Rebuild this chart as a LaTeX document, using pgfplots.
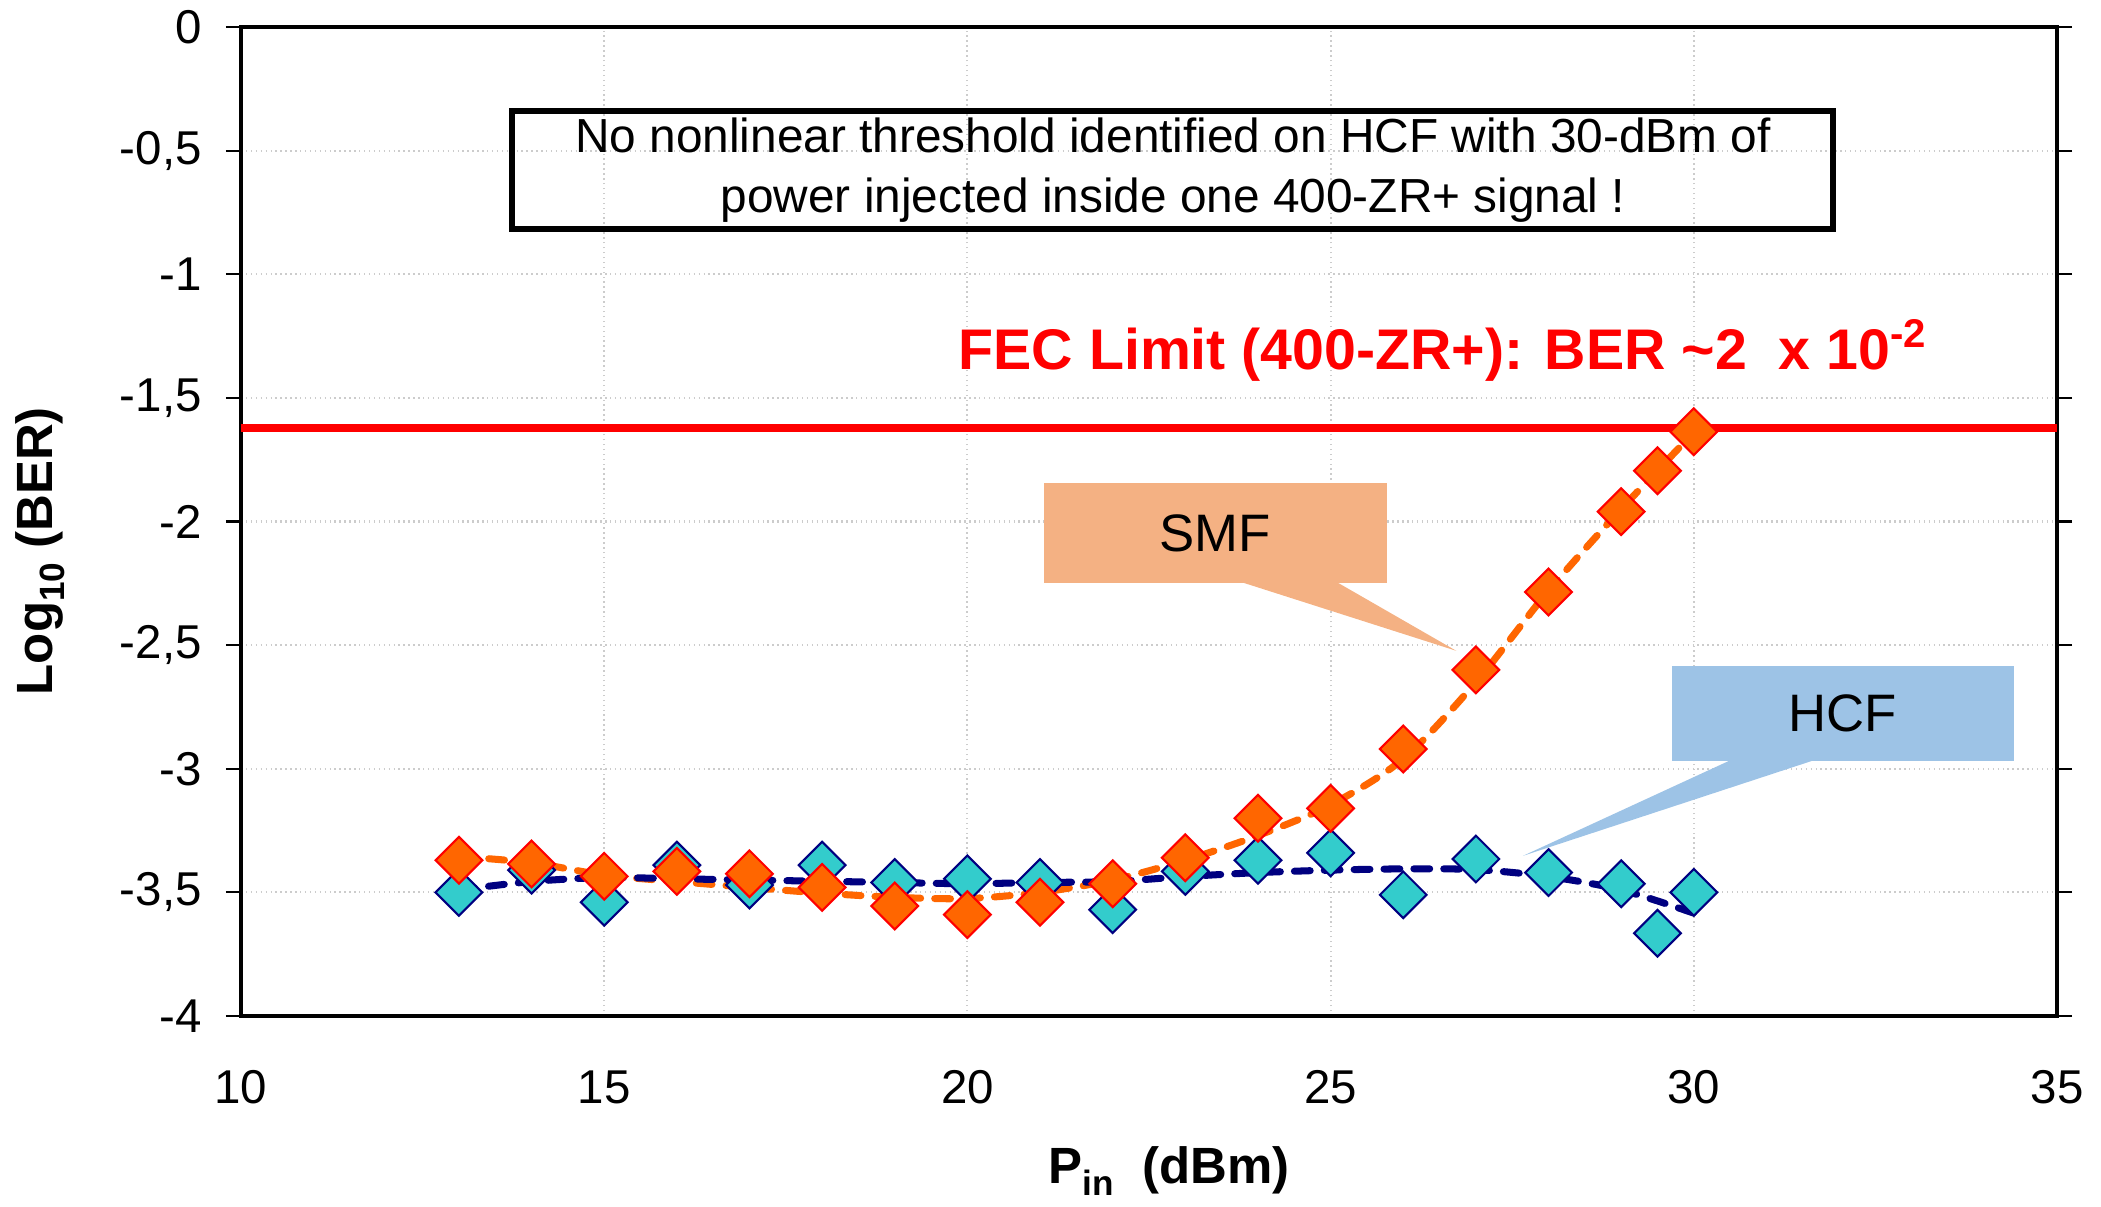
\documentclass[border=0pt]{standalone}
\usepackage{fontspec}
\setmainfont{Liberation Sans}
\usepackage{pgfplots}
\pgfplotsset{compat=1.18}
\usetikzlibrary{calc}
\definecolor{smf}{HTML}{FF6600}
\definecolor{hcf}{HTML}{33CCCC}
\definecolor{navyline}{HTML}{000080}
\definecolor{smfbox}{HTML}{F4B183}
\definecolor{hcfbox}{HTML}{9DC3E6}
\newcommand{\lowsub}[1]{\raisebox{-0.45ex}{\fontsize{10}{12}\selectfont #1}}

\begin{document}
\begin{tikzpicture}
\begin{axis}[
  scale only axis,
  width=18.16cm, height=9.89cm,
  xmin=10, xmax=35, ymin=-4, ymax=0,
  xtick={10,15,...,35},
  ytick={-4,-3.5,...,0},
  grid=major,
  grid style={gray!40, densely dotted, line width=0.6pt},
  axis line style={black, line width=1.3pt},
  tick align=outside,
  xtick style={draw=none},
  ytick style={black, line width=0.6pt},
  major tick length=0.15cm,
  tick label style={font=\fontsize{13.5}{16}\selectfont},
  yticklabel style={xshift=-0.12cm},
  xticklabel style={yshift=-0.27cm},
  /pgf/number format/assume math mode=true,
  /pgf/number format/use comma,
  /pgf/number format/1000 sep={},
  xlabel={\textbf{P\lowsub{\textbf{in}}\ \ (dBm)}},
  ylabel={\textbf{Log\lowsub{\textbf{10}} (BER)}},
  xlabel style={font=\fontsize{14.5}{17}\selectfont, at={(axis description cs:0.511,-0.157)}, anchor=center},
  ylabel style={font=\fontsize{14.5}{17}\selectfont, at={(axis description cs:-0.1107,0.47)}, anchor=center},
  clip=false,
]
% callouts
\fill[smfbox] (axis cs:21.05,-1.844) rectangle (axis cs:25.78,-2.248);
\fill[smfbox] (axis cs:23.78,-2.246) -- (axis cs:25.09,-2.246) -- (axis cs:26.73,-2.523) -- cycle;
\node[font=\fontsize{15}{18}\selectfont] at (axis cs:23.41,-2.046) {SMF};
\fill[hcfbox] (axis cs:29.70,-2.584) rectangle (axis cs:34.41,-2.968);
\fill[hcfbox] (axis cs:30.50,-2.966) -- (axis cs:31.65,-2.966) -- (axis cs:27.65,-3.352) -- cycle;
\node[font=\fontsize{15}{18}\selectfont] at (axis cs:32.05,-2.776) {HCF};

% note box
\draw[black, line width=1.7pt] (axis cs:13.73,-0.340) rectangle (axis cs:31.92,-0.817);
\node[align=center, font=\fontsize{13.6}{17}\selectfont] at (axis cs:22.83,-0.579)
  {No nonlinear threshold identified on HCF with 30-dBm of\\power injected inside one 400-ZR+ signal !};

% HCF markers
\addplot[only marks, mark=square*, mark size=4.7pt,
  mark options={rotate=45, fill=hcf, draw=navyline, line width=0.6pt}] coordinates {
  (13,-3.50) (14,-3.41) (15,-3.54) (16,-3.39) (17,-3.47) (18,-3.39) (19,-3.46)
  (20,-3.445) (21,-3.46) (22,-3.57) (23,-3.415) (24,-3.37) (25,-3.34) (26,-3.51)
  (27,-3.365) (28,-3.42) (29,-3.465) (29.5,-3.665) (30,-3.50)};
% SMF markers
\addplot[only marks, mark=square*, mark size=4.7pt,
  mark options={rotate=45, fill=smf, draw=red, line width=0.6pt}] coordinates {
  (13,-3.37) (14,-3.385) (15,-3.435) (16,-3.415) (17,-3.425) (18,-3.48) (19,-3.555)
  (20,-3.59) (21,-3.54) (22,-3.465) (23,-3.36) (24,-3.20) (25,-3.16) (26,-2.92)
  (27,-2.60) (28,-2.285) (29,-1.96) (29.5,-1.795) (30,-1.637)};
% SMF trend
\addplot[smf, smooth, no marks, line width=2pt, line cap=round, dash pattern=on 4.5pt off 4pt] coordinates {
  (13,-3.355) (14,-3.38) (15,-3.43) (16,-3.456) (17,-3.48) (18,-3.503) (19,-3.52)
  (20,-3.525) (21,-3.50) (22,-3.45) (23,-3.37) (24,-3.27) (25,-3.146) (26,-2.96)
  (27,-2.65) (28,-2.28) (29,-1.95) (30,-1.64)};
% HCF trend
\addplot[navyline, smooth, no marks, line width=2pt, line cap=round, dash pattern=on 4.5pt off 4pt] coordinates {
  (13,-3.49) (14,-3.456) (15,-3.44) (16,-3.445) (17,-3.45) (18,-3.455) (19,-3.46)
  (20,-3.465) (21,-3.46) (22,-3.456) (23,-3.436) (24,-3.42) (25,-3.41) (26,-3.405)
  (27,-3.408) (28,-3.436) (29,-3.49) (30,-3.584)};
% FEC limit
\addplot[red, line width=2.3pt, no marks] coordinates {(10,-1.62) (35,-1.62)};
\node[red, font=\bfseries\fontsize{16.3}{19}\selectfont] at (axis cs:26.55,-1.31)
  {FEC Limit (400-ZR+): BER \textasciitilde2\ \ x 10\textsuperscript{-2}};

\coordinate (SW) at (rel axis cs:0,0);
\coordinate (NE) at (rel axis cs:1,1);
\end{axis}
\pgfresetboundingbox
\path ($(SW)+(-2.41,-1.90)$) rectangle ($(NE)+(0.44,0.27)$);
\end{tikzpicture}
\end{document}
